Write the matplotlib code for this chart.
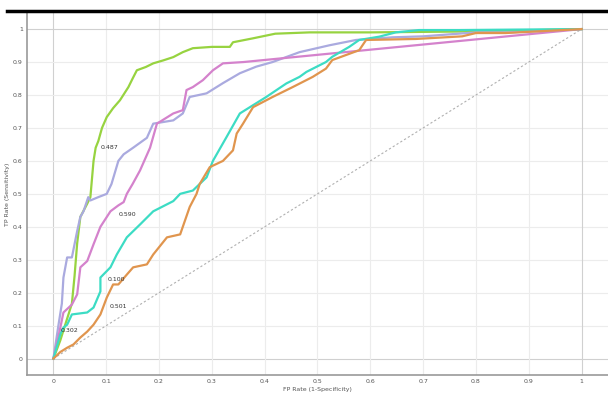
import numpy as np
import matplotlib
matplotlib.use("Agg")
import matplotlib.pyplot as plt
from matplotlib.lines import Line2D

# ROC curves (FP rate, TP rate)
green_x = [0, 0.013, 0.023, 0.035, 0.040, 0.045, 0.051, 0.064, 0.070, 0.076, 0.080, 0.085, 0.092, 0.101,
           0.113, 0.126, 0.142, 0.150, 0.158, 0.175, 0.189, 0.208, 0.227, 0.245, 0.264, 0.300, 0.334,
           0.340, 0.378, 0.420, 0.485, 0.600, 0.800, 1.0]
green_y = [0, 0.055, 0.106, 0.167, 0.250, 0.350, 0.430, 0.470, 0.490, 0.600, 0.640, 0.660, 0.700, 0.733,
           0.760, 0.784, 0.824, 0.850, 0.875, 0.885, 0.896, 0.905, 0.915, 0.930, 0.942, 0.946, 0.946,
           0.960, 0.972, 0.986, 0.990, 0.990, 0.993, 1.0]

purple_x = [0, 0.010, 0.016, 0.019, 0.026, 0.035, 0.045, 0.051, 0.057, 0.066, 0.070, 0.085, 0.101,
            0.110, 0.123, 0.133, 0.151, 0.177, 0.189, 0.227, 0.245, 0.258, 0.290, 0.321, 0.353, 0.384,
            0.415, 0.466, 0.523, 0.573, 0.642, 0.700, 0.800, 0.862, 1.0]
purple_y = [0, 0.106, 0.167, 0.246, 0.307, 0.307, 0.387, 0.430, 0.447, 0.490, 0.480, 0.490, 0.500,
            0.530, 0.600, 0.620, 0.640, 0.670, 0.713, 0.723, 0.744, 0.794, 0.805, 0.836, 0.866, 0.886,
            0.900, 0.930, 0.951, 0.967, 0.975, 0.978, 0.990, 0.990, 1.0]

pink_x = [0, 0.010, 0.019, 0.035, 0.045, 0.051, 0.064, 0.076, 0.089, 0.108, 0.123, 0.133, 0.139, 0.150,
          0.164, 0.183, 0.196, 0.227, 0.245, 0.252, 0.264, 0.283, 0.302, 0.321, 0.360, 1.0]
pink_y = [0, 0.070, 0.140, 0.164, 0.195, 0.277, 0.296, 0.347, 0.400, 0.447, 0.465, 0.475, 0.500, 0.530,
          0.571, 0.640, 0.713, 0.744, 0.754, 0.815, 0.824, 0.845, 0.875, 0.896, 0.900, 1.0]

cyan_x = [0, 0.013, 0.019, 0.026, 0.035, 0.064, 0.076, 0.089, 0.089, 0.108, 0.120, 0.139, 0.164, 0.189,
          0.227, 0.240, 0.264, 0.290, 0.302, 0.328, 0.353, 0.372, 0.403, 0.441, 0.466, 0.479, 0.516,
          0.528, 0.560, 0.579, 0.617, 0.648, 0.692, 0.768, 1.0]
cyan_y = [0, 0.073, 0.094, 0.103, 0.134, 0.140, 0.155, 0.204, 0.246, 0.277, 0.316, 0.368, 0.407, 0.447,
          0.478, 0.500, 0.510, 0.550, 0.600, 0.673, 0.744, 0.763, 0.794, 0.835, 0.855, 0.870, 0.900,
          0.916, 0.946, 0.967, 0.977, 0.990, 0.997, 0.997, 1.0]

orange_x = [0, 0.013, 0.026, 0.038, 0.051, 0.064, 0.076, 0.089, 0.101, 0.113, 0.123, 0.139, 0.151,
            0.177, 0.189, 0.215, 0.240, 0.258, 0.271, 0.277, 0.296, 0.321, 0.340, 0.347, 0.359, 0.378,
            0.415, 0.453, 0.491, 0.516, 0.528, 0.579, 0.592, 0.686, 0.774, 0.800, 0.856, 1.0]
orange_y = [0, 0.020, 0.033, 0.043, 0.064, 0.082, 0.103, 0.134, 0.185, 0.225, 0.225, 0.255, 0.277,
            0.286, 0.316, 0.368, 0.377, 0.460, 0.500, 0.530, 0.581, 0.600, 0.632, 0.683, 0.713, 0.763,
            0.794, 0.824, 0.855, 0.880, 0.906, 0.936, 0.967, 0.970, 0.978, 0.988, 0.988, 1.0]

# threshold labels: text, x, y
labels = [("0.487", 0.089, 0.641), ("0.590", 0.123, 0.438), ("0.100", 0.102, 0.240),
          ("0.501", 0.106, 0.158), ("0.302", 0.013, 0.085)]

ticks = [0, 0.1, 0.2, 0.3, 0.4, 0.5, 0.6, 0.7, 0.8, 0.9, 1]
tick_labels = ["0", "0.1", "0.2", "0.3", "0.4", "0.5", "0.6", "0.7", "0.8", "0.9", "1"]

fig = plt.figure(figsize=(6.08, 3.94), dpi=100)
ax = fig.add_axes([0.0444, 0.048, 0.9556, 0.92])

ax.set_xlim(-0.05, 1.05)
ax.set_ylim(-0.05, 1.05)

for t in ticks:
    c = "#d0d0d0" if t in (0, 1) else "#ececec"
    ax.axvline(t, color=c, lw=0.8, zorder=0)
    ax.axhline(t, color=c, lw=0.8, zorder=0)

ax.plot([0, 1], [0, 1], color="#b0b0b0", lw=0.8, linestyle=(0, (2, 2)), zorder=1)

ax.plot(green_x, green_y, color="#97d340", lw=1.6, zorder=3)
ax.plot(purple_x, purple_y, color="#aaaadf", lw=1.6, zorder=3)
ax.plot(pink_x, pink_y, color="#d482cc", lw=1.6, zorder=3)
ax.plot(cyan_x, cyan_y, color="#3cdcc4", lw=1.6, zorder=3)
ax.plot(orange_x, orange_y, color="#e0954e", lw=1.6, zorder=3)

for txt, x, y in labels:
    ax.text(x, y, txt, fontsize=4.5, color="#333333", va="center", ha="left", zorder=4)

ax.set_xticks(ticks)
ax.set_xticklabels(tick_labels)
ax.set_yticks(ticks)
ax.set_yticklabels(tick_labels)
ax.tick_params(length=0, labelsize=4.5, labelcolor="#555555", pad=3)

for s in ["top", "right"]:
    ax.spines[s].set_visible(False)
ax.spines["left"].set_color("#999999")
ax.spines["bottom"].set_color("#999999")
ax.spines["left"].set_linewidth(1.2)
ax.spines["bottom"].set_linewidth(1.2)

ax.set_xlabel("FP Rate (1-Specificity)", fontsize=4.5, color="#555555", labelpad=2)
ax.set_ylabel("TP Rate (Sensitivity)", fontsize=4.5, color="#555555", labelpad=2)

# thick dark rule along the top of the picture
fig.add_artist(Line2D([0.012, 1.0], [0.972, 0.972], color="black", lw=2.5, transform=fig.transFigure))

fig.savefig("out.png", dpi=100)
